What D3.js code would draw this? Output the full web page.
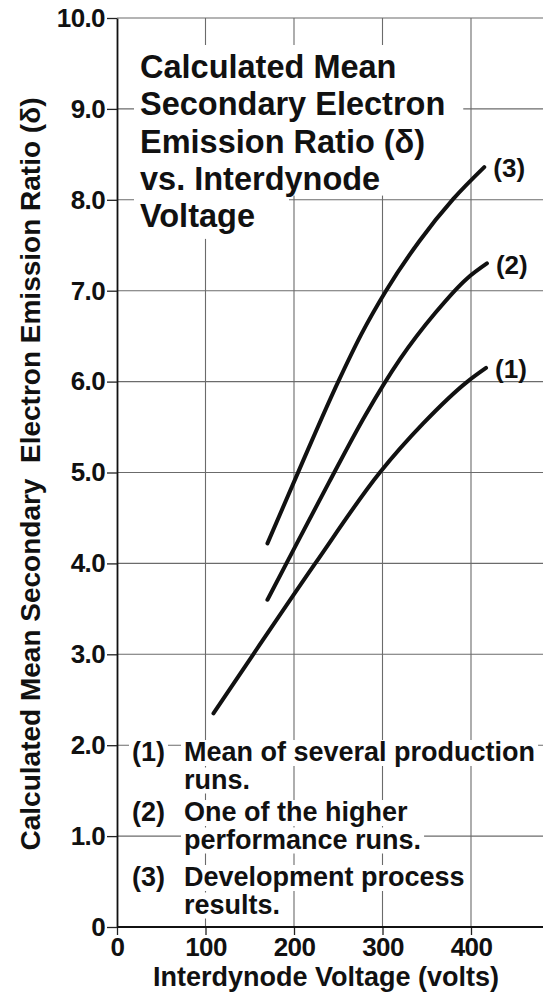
<!DOCTYPE html>
<html>
<head>
<meta charset="utf-8">
<script src="https://cdnjs.cloudflare.com/ajax/libs/d3/7.8.5/d3.min.js"></script>
<style>
  body { margin: 0; background: #fff; }
  svg text { font-family: "Liberation Sans", Arial, Helvetica, sans-serif; font-weight: bold; fill: #111; }
</style>
</head>
<body>
<div class="chart"></div>
<script>
// curves: [interdynode volts, delta]
var run1 = [[109, 2.35], [154, 3.0], [224, 4.0], [297, 5.0], [346, 5.54], [396, 6.0], [417, 6.15]];
var run2 = [[170, 3.60], [200, 4.16], [240, 4.90], [280, 5.62], [320, 6.25], [360, 6.76], [395, 7.13], [418, 7.30]];
var run3 = [[170, 4.22], [205, 5.01], [250, 6.0], [276, 6.52], [304, 7.0], [342, 7.55], [380, 8.01], [415, 8.36]];
var runs = [run1, run2, run3];
var curveLabels = ["(1)", "(2)", "(3)"];

var xTicks = [0, 100, 200, 300, 400];
var yTicks = [0, 1, 2, 3, 4, 5, 6, 7, 8, 9, 10];
var yTickLabels = ["0", "1.0", "2.0", "3.0", "4.0", "5.0", "6.0", "7.0", "8.0", "9.0", "10.0"];

var titleLines = ["Calculated Mean", "Secondary Electron", "Emission Ratio (\u03b4)", "vs. Interdynode", "Voltage"];
var legendNums = ["(1)", "(2)", "(3)"];
var legendText = [
  ["Mean of several production", "runs."],
  ["One of the higher", "performance runs."],
  ["Development process", "results."]
];
var xTitle = "Interdynode Voltage (volts)";
var yTitle = "Calculated Mean Secondary\u00a0 Electron Emission Ratio (\u03b4)";

var W = 543, H = 1002;

var svg = d3.select(".chart").append("svg")
    .attr("width", W)
    .attr("height", H)
    .style("display", "block");

var x = d3.scaleLinear().domain([0, 400]).range([117, 471]);
var y = d3.scaleLinear().domain([0, 10]).range([927, 18]);

// grid
var grid = svg.append("g").attr("stroke", "#6b6b6b").attr("stroke-width", 1.1);
grid.selectAll(".h").data(yTicks.slice(1)).join("line")
    .attr("x1", x(0)).attr("x2", W)
    .attr("y1", function(d) { return y(d); })
    .attr("y2", function(d) { return y(d); });
grid.selectAll(".v").data(xTicks.slice(1)).join("line")
    .attr("x1", function(d) { return x(d); })
    .attr("x2", function(d) { return x(d); })
    .attr("y1", y(10)).attr("y2", y(0));

// axes
var yAxis = svg.append("g")
    .attr("transform", "translate(" + x(0) + ",0)")
    .call(d3.axisLeft(y)
      .tickValues(yTicks)
      .tickFormat(function(d, i) { return yTickLabels[i]; })
      .tickSize(10).tickSizeOuter(0).tickPadding(2));
var xAxis = svg.append("g")
    .attr("transform", "translate(0," + y(0) + ")")
    .call(d3.axisBottom(x)
      .tickValues(xTicks)
      .tickSize(8).tickSizeOuter(0).tickPadding(3));
xAxis.select(".domain").remove();
svg.append("line")
    .attr("x1", x(0)).attr("x2", W)
    .attr("y1", y(0)).attr("y2", y(0))
    .attr("stroke", "#111").attr("stroke-width", 2);

[yAxis, xAxis].forEach(function(a) {
  a.selectAll("text").style("font-size", "26px").style("letter-spacing", "-0.6px")
    .attr("fill", "#111").style("font-family", null);
  a.selectAll("line").attr("stroke", "#222").attr("stroke-width", 1.3);
});
yAxis.select(".domain").attr("stroke", "#111").attr("stroke-width", 1.8);

// title block
var titleG = svg.append("g");
var titleBg = titleG.append("g");
var titleTxt = titleG.selectAll("text").data(titleLines).join("text")
    .attr("x", 140)
    .attr("y", function(d, i) { return 78 + i * 37.3; })
    .style("font-size", "32.5px")
    .text(function(d) { return d; });
var tb = [];
titleTxt.each(function() { tb.push(this.getBBox()); });
var blockRight = d3.max(tb.slice(0, 4), function(b) { return b.x + b.width; }) + 18;
tb.forEach(function(b, i) {
  var last = i === tb.length - 1;
  titleBg.append("rect")
    .attr("x", b.x - 6)
    .attr("y", i === 0 ? b.y - 4 : tb[i - 1].y + tb[i - 1].height - 6)
    .attr("width", (last ? b.width + 40 : blockRight - b.x + 6))
    .attr("height", i === 0 ? b.height + 2 : b.height + 6 + (last ? 6 : 0))
    .attr("fill", "#fff");
});

// legend
var legG = svg.append("g");
var legBase = [761, 821, 886];
legendText.forEach(function(lines, i) {
  var g = legG.append("g");
  var bg = g.append("g");
  var t = g.append("g");
  t.append("text").attr("x", 132).attr("y", legBase[i])
    .style("font-size", "27px").text(legendNums[i]);
  lines.forEach(function(s, j) {
    t.append("text").attr("x", 184).attr("y", legBase[i] + j * 27.5)
      .style("font-size", "27px").text(s);
  });
  t.selectAll("text").each(function() {
    var b = this.getBBox();
    bg.append("rect")
      .attr("x", b.x - 3).attr("y", b.y + 3)
      .attr("width", b.width + 6).attr("height", b.height - 4)
      .attr("fill", "#fff");
  });
});

// axis titles
svg.append("text")
    .attr("x", 326).attr("y", 986)
    .attr("text-anchor", "middle")
    .style("font-size", "27px")
    .text(xTitle);
svg.append("text")
    .attr("transform", "translate(40,474) rotate(-90)")
    .attr("text-anchor", "middle")
    .style("font-size", "28px")
    .text(yTitle);

// curves
var line = d3.line()
    .x(function(d) { return x(d[0]); })
    .y(function(d) { return y(d[1]); })
    .curve(d3.curveMonotoneX);
svg.append("g").selectAll("path").data(runs).join("path")
    .attr("d", line)
    .attr("fill", "none")
    .attr("stroke", "#111")
    .attr("stroke-width", 4)
    .attr("stroke-linecap", "round");

svg.append("g").selectAll("text").data(runs).join("text")
    .attr("x", function(d) { return x(d[d.length - 1][0]) + 9; })
    .attr("y", function(d) { return y(d[d.length - 1][1]); })
    .attr("dy", "0.4em")
    .style("font-size", "26px")
    .text(function(d, i) { return curveLabels[i]; });
</script>
</body>
</html>
